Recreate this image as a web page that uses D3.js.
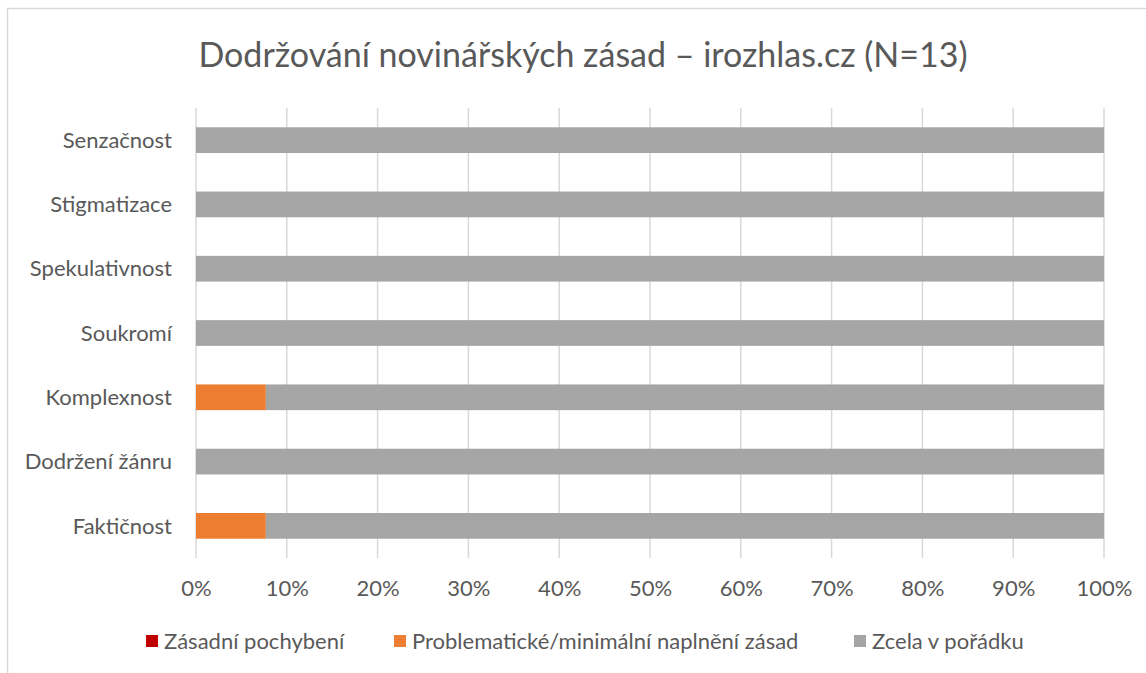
<!DOCTYPE html>
<html>
<head>
<meta charset="utf-8">
<script src="https://cdn.jsdelivr.net/npm/d3@7"></script>
<style>
  body { margin: 0; background: #fff; }
  svg { display: block; font-family: Lato, "Open Sans", sans-serif; }
</style>
</head>
<body>
<div id="chart"></div>
<script>
// Categories, listed top to bottom as in the chart
const categories = ['Senzačnost', 'Stigmatizace', 'Spekulativnost', 'Soukromí',
  'Komplexnost', 'Dodržení žánru', 'Faktičnost'];
// Counts per category (N = 13)
const zasadniPochybeni = [0, 0, 0, 0, 0, 0, 0];
const problematicke = [0, 0, 0, 0, 1, 0, 1];
const zcelaVPoradku = [13, 13, 13, 13, 12, 13, 12];
const seriesNames = ['Zásadní pochybení', 'Problematické/minimální naplnění zásad', 'Zcela v pořádku'];
const seriesColors = ['#c00000', '#ed7d31', '#a5a5a5'];
const tickValues = [0, 0.1, 0.2, 0.3, 0.4, 0.5, 0.6, 0.7, 0.8, 0.9, 1];

const width = 1146, height = 673;
const margin = { top: 108, right: 42, bottom: 115, left: 196 };
const textColor = '#595959';

const svg = d3.select('#chart').append('svg')
  .attr('width', width)
  .attr('height', height);

// Chart frame
svg.append('path')
  .attr('d', `M7.5,${height}V8.5H${width}`)
  .attr('fill', 'none')
  .attr('stroke', '#d9d9d9')
  .attr('stroke-width', 1.5);

svg.append('text')
  .attr('x', 583)
  .attr('y', 67)
  .attr('text-anchor', 'middle')
  .attr('font-size', 34)
  .attr('fill', textColor)
  .text('Dodržování novinářských zásad – irozhlas.cz (N=13)');

const x = d3.scaleLinear()
  .domain([0, 1])
  .range([margin.left, width - margin.right]);

const y = d3.scaleBand()
  .domain(categories)
  .range([margin.top, height - margin.bottom])
  .paddingInner(0.6)
  .paddingOuter(0.3);

// Gridlines
svg.append('g')
  .selectAll('line')
  .data(tickValues)
  .enter().append('line')
  .attr('x1', d => x(d)).attr('x2', d => x(d))
  .attr('y1', margin.top).attr('y2', height - margin.bottom)
  .attr('stroke', '#d9d9d9')
  .attr('stroke-width', 1.5);

// Stacked rows, as shares of each category's total
const stackData = categories.map((c, i) => {
  const total = zasadniPochybeni[i] + problematicke[i] + zcelaVPoradku[i];
  return {
    category: c,
    s0: zasadniPochybeni[i] / total,
    s1: problematicke[i] / total,
    s2: zcelaVPoradku[i] / total
  };
});
const layers = d3.stack().keys(['s0', 's1', 's2'])(stackData);

svg.append('g')
  .selectAll('g')
  .data(layers)
  .enter().append('g')
  .attr('fill', (d, i) => seriesColors[i])
  .selectAll('rect')
  .data(d => d)
  .enter().append('rect')
  .attr('x', d => x(d[0]))
  .attr('y', d => y(d.data.category))
  .attr('width', d => x(d[1]) - x(d[0]))
  .attr('height', y.bandwidth());

// Category axis labels
svg.append('g')
  .selectAll('text')
  .data(categories)
  .enter().append('text')
  .attr('x', margin.left - 24)
  .attr('y', d => y(d) + y.bandwidth() / 2)
  .attr('dy', '0.35em')
  .attr('text-anchor', 'end')
  .attr('font-size', 22)
  .attr('fill', textColor)
  .text(d => d);

// Percentage axis
const xAxis = svg.append('g')
  .attr('transform', `translate(0, ${height - margin.bottom})`)
  .call(d3.axisBottom(x).tickValues(tickValues).tickFormat(d3.format('.0%')).tickSize(0).tickPadding(22));
xAxis.select('.domain').remove();
xAxis.selectAll('text')
  .attr('font-family', 'Lato, "Open Sans", sans-serif')
  .attr('font-size', 22)
  .attr('fill', textColor);

// Legend
const legendX = [146, 394, 854];
const legend = svg.append('g')
  .selectAll('g')
  .data(seriesNames)
  .enter().append('g')
  .attr('transform', (d, i) => `translate(${legendX[i]}, 641)`);
legend.append('rect')
  .attr('x', 0).attr('y', -6)
  .attr('width', 12).attr('height', 12)
  .attr('fill', (d, i) => seriesColors[i]);
legend.append('text')
  .attr('x', 18)
  .attr('dy', '0.35em')
  .attr('font-size', 22)
  .attr('fill', textColor)
  .text(d => d);
</script>
</body>
</html>
